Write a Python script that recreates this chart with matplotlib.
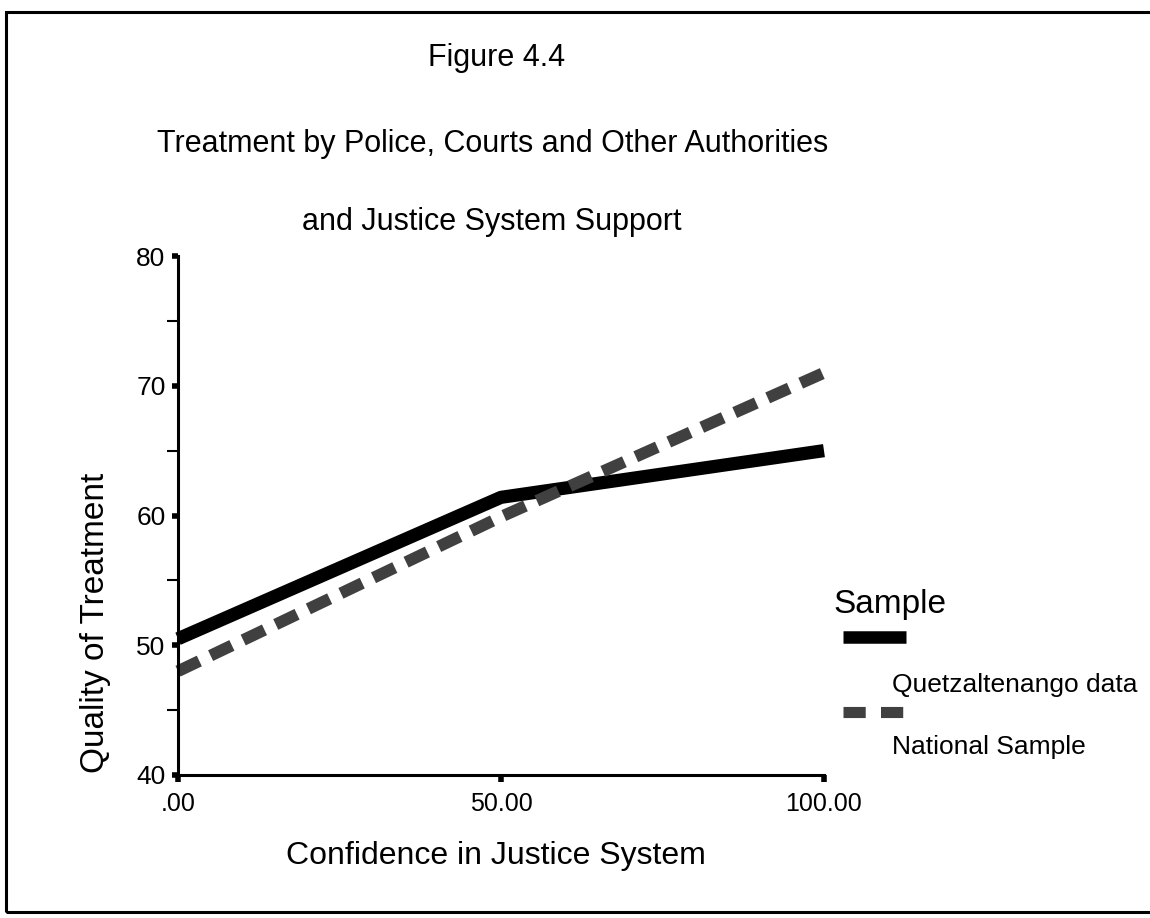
import matplotlib
matplotlib.use("Agg")
import matplotlib.pyplot as plt
from matplotlib.lines import Line2D
from matplotlib.patches import Rectangle

plt.rcParams["font.family"] = ["Liberation Sans", "DejaVu Sans"]
plt.rcParams["lines.scale_dashes"] = False

# ---------------- data ----------------
confidence = [0, 50, 100]
quetzaltenango = [50.5, 61.4, 65.0]
national = [48.0, 59.9, 71.0]

x_ticks = [0, 50, 100]
x_tick_labels = [".00", "50.00", "100.00"]
y_ticks = [40, 50, 60, 70, 80]
y_minor = [45, 55, 65, 75]

DASH_COLOR = "#404040"

# ---------------- figure ----------------
fig = plt.figure(figsize=(11.5, 9.18), dpi=100)
ax = fig.add_axes([0.1548, 0.1558, 0.5617, 0.5653])

ax.plot(confidence, quetzaltenango, color="black", linewidth=9.5,
        solid_capstyle="butt", solid_joinstyle="round", clip_on=False)
ax.plot(confidence, national, color=DASH_COLOR, linewidth=8.5,
        dashes=(17, 9), dash_capstyle="butt", clip_on=False)

ax.set_xlim(0, 100)
ax.set_ylim(40, 80)

for side in ["top", "right"]:
    ax.spines[side].set_visible(False)
for side in ["left", "bottom"]:
    ax.spines[side].set_linewidth(2.2)

ax.set_xticks(x_ticks)
ax.set_xticklabels(x_tick_labels, fontsize=18)
ax.set_yticks(y_ticks)
ax.set_yticks(y_minor, minor=True)
ax.tick_params(axis="y", which="major", length=4, width=4, labelsize=19, pad=5)
ax.tick_params(axis="y", which="minor", length=8, width=1.5)
ax.tick_params(axis="x", which="major", length=5, width=4, labelsize=18, pad=7)

# titles
fig.text(0.432, 0.937, "Figure 4.4", ha="center", va="center", fontsize=22)
fig.text(0.428, 0.843, "Treatment by Police, Courts and Other Authorities",
         ha="center", va="center", fontsize=22)
fig.text(0.428, 0.758, "and Justice System Support",
         ha="center", va="center", fontsize=22)

# axis titles
fig.text(0.083, 0.322, "Quality of Treatment", rotation=90,
         ha="center", va="center", fontsize=24)
fig.text(0.431, 0.068, "Confidence in Justice System",
         ha="center", va="center", fontsize=23)

# legend block
fig.text(0.725, 0.341, "Sample", ha="left", va="center", fontsize=24)
fig.add_artist(Line2D([0.733, 0.788], [0.306, 0.306], color="black",
                      linewidth=9, solid_capstyle="butt",
                      transform=fig.transFigure))
fig.text(0.776, 0.254, "Quetzaltenango data", ha="left", va="center", fontsize=19)
fig.add_artist(Line2D([0.733, 0.787], [0.224, 0.224], color=DASH_COLOR,
                      linewidth=8, dashes=(16, 11), dash_capstyle="butt",
                      transform=fig.transFigure))
fig.text(0.776, 0.186, "National Sample", ha="left", va="center", fontsize=19)

# page frame
fig.add_artist(Rectangle((0.005, 0.007), 1.2, 0.98, fill=False,
                         edgecolor="black", linewidth=2.2,
                         transform=fig.transFigure))

fig.savefig("out.png", dpi=100)
